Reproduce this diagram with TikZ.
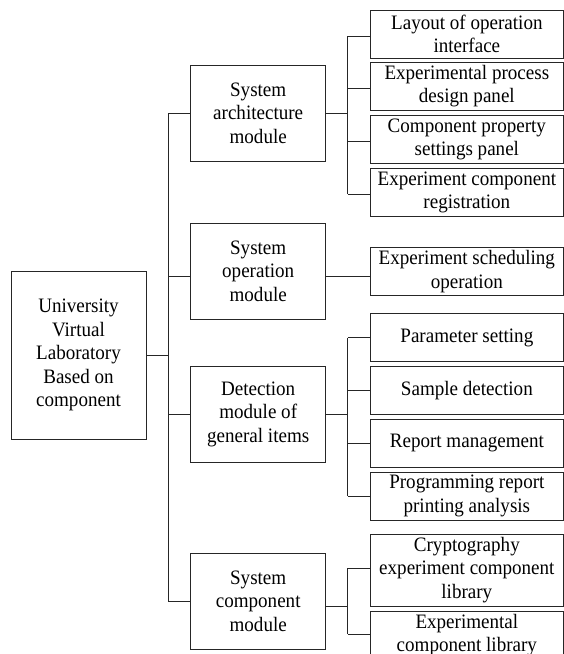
\documentclass[tikz,border=0pt]{standalone}
\usepackage{fontspec}
\setmainfont{Liberation Serif}[FakeStretch=0.93]
\begin{document}
\begin{tikzpicture}[x=1pt,y=-1pt,
  box/.style={draw=black!85, line width=1pt, inner sep=0pt, align=center,
    font=\fontsize{20.5}{23.5}\selectfont},
  rootbox/.style={box, minimum width=135pt, minimum height=168pt},
  modbox/.style={box, minimum width=135pt, minimum height=96pt},
  itembox/.style={box, minimum width=192.3pt, minimum height=48pt},
  tallbox/.style={itembox, minimum height=72pt},
  link/.style={draw=black!85, line width=0.9pt}]
\useasboundingbox (0,0) rectangle (564,654);
\clip (0,0) rectangle (564,654);

% root
\node[rootbox] (root) at (78.5,355) {University\\Virtual\\Laboratory\\Based on\\component};

% modules
\node[modbox] (sa)  at (258.2,113)   {System\\architecture\\module};
\node[modbox] (so)  at (258.2,271)   {System\\operation\\module};
\node[modbox] (det) at (258.2,414.3) {Detection\\module of\\general items};
\node[modbox] (sc)  at (258.2,601)   {System\\component\\module};

% items
\node[itembox] (layout) at (466.85,34)    {Layout of operation\\interface};
\node[itembox] (proc)   at (466.85,86.2)  {Experimental process\\design panel};
\node[itembox] (prop)   at (466.85,139.5) {Component property\\settings panel};
\node[itembox] (reg)    at (466.85,192.2) {Experiment component\\registration};
\node[itembox] (sched)  at (466.85,271.4) {Experiment scheduling\\operation};
\node[itembox] (param)  at (466.85,337.9) {Parameter setting};
\node[itembox] (sample) at (466.85,390.4) {Sample detection};
\node[itembox] (report) at (466.85,443)   {Report management};
\node[itembox] (prog)   at (466.85,496)   {Programming report\\printing analysis};
\node[tallbox] (crypto) at (466.85,570)   {Cryptography\\experiment component\\library};
\node[itembox] (lib)    at (466.85,635)   {Experimental\\component library};

% trunk lines
\coordinate (trunk) at (168.3,0);
\coordinate (sub) at (347.5,0);

\draw[link] (root.east) -- (root.east -| trunk);
\draw[link] (sa.west -| trunk) -- (sc.west -| trunk);
\draw[link] (sa.west -| trunk) -- (sa.west);
\draw[link] ([yshift=-5.5pt]so.west -| trunk) -- ([yshift=-5.5pt]so.west);
\draw[link] (det.west -| trunk) -- (det.west);
\draw[link] (sc.west -| trunk) -- (sc.west);

% architecture items
\draw[link] (sa.east) -- (sa.east -| sub);
\draw[link] ([yshift=-2pt]layout.west -| sub) -- ([yshift=-2pt]reg.west -| sub);
\foreach \n in {layout,proc,prop,reg}
  \draw[link] ([yshift=-2pt]\n.west -| sub) -- ([yshift=-2pt]\n.west);

% operation item
\draw[link] ([yshift=-5.5pt]so.east) -- ([yshift=-5.5pt]so.east -| sched.west);

% detection items
\draw[link] (det.east) -- (det.east -| sub);
\draw[link] (param.west -| sub) -- (prog.west -| sub);
\foreach \n in {param,sample,report,prog}
  \draw[link] (\n.west -| sub) -- (\n.west);

% component items
\draw[link] ([yshift=-5pt]sc.east) -- ([yshift=-5pt]sc.east -| sub);
\draw[link] ([yshift=2pt]crypto.west -| sub) -- ([yshift=1pt]lib.west -| sub);
\draw[link] ([yshift=2pt]crypto.west -| sub) -- ([yshift=2pt]crypto.west);
\draw[link] ([yshift=1pt]lib.west -| sub) -- ([yshift=1pt]lib.west);
\end{tikzpicture}
\end{document}
